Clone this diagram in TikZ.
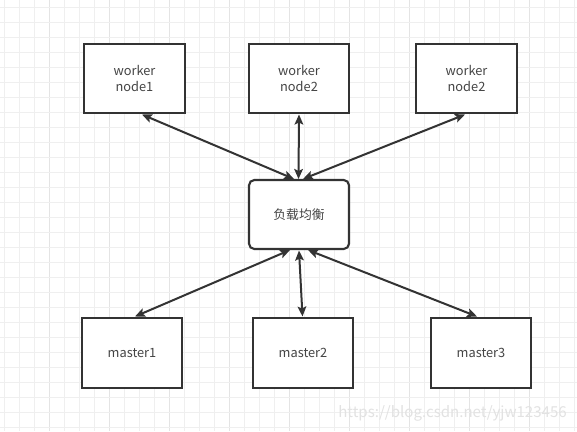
\documentclass[tikz,border=0pt]{standalone}
\usepackage{fontspec}
\setmainfont{Noto Sans CJK SC}
\usetikzlibrary{arrows.meta,calc}
\definecolor{gridminor}{HTML}{EFEFEF}
\definecolor{gridmajor}{HTML}{E4E4E4}
\definecolor{edge}{HTML}{333333}
\definecolor{txt}{HTML}{444444}
\definecolor{wm}{HTML}{E2E2E2}
\tikzset{
  box/.style={draw=edge, line width=1.6pt, fill=white, inner sep=0pt, outer sep=0pt,
    minimum width=75pt, minimum height=52pt, align=center, text=txt,
    font=\fontsize{9.6}{12.5}\selectfont},
  wbox/.style={box, minimum width=75.75pt, minimum height=51.75pt},
  mbox/.style={box, minimum width=75pt, minimum height=52.5pt},
  lbbox/.style={box, rounded corners=4pt, minimum width=75pt, minimum height=51.75pt},
  conn/.style={draw=edge, line width=1.5pt,
    {Stealth[length=7.5pt,width=6.5pt,inset=1.5pt]}-{Stealth[length=7.5pt,width=6.5pt,inset=1.5pt]}},
  gridline/.style={draw=gridminor, line width=0.75pt},
  gridmaj/.style={draw=gridmajor, line width=0.75pt}
}
\begin{document}
\begin{tikzpicture}[x=0.75pt, y=-0.75pt]
\useasboundingbox (0,0) rectangle (577,431);
\fill[white] (0,0) rectangle (577,431);
% grid
\foreach \k in {0,...,38} {
  \pgfmathtruncatemacro{\m}{mod(\k,4)}
  \ifnum\m=3
    \draw[gridmaj] (4.5+15*\k,0) -- (4.5+15*\k,431);
  \else
    \draw[gridline] (4.5+15*\k,0) -- (4.5+15*\k,431);
  \fi
}
\foreach \k in {0,...,28} {
  \draw[gridline] (0,7.5+15*\k) -- (577,7.5+15*\k);
}
% watermark
\node[anchor=east, text=wm, inner sep=0pt, font=\fontsize{11.3}{14}\selectfont] (wmk) at (567,413) {https://blog.csdn.net/yjw123456};
% boxes
\node[wbox] (w1) at (134.5,78.5) {worker\\node1};
\node[wbox, minimum width=75pt] (w2) at (299,78.5) {worker\\node2};
\node[wbox] (w3) at (466.5,78.5) {worker\\node2};
\node[lbbox] (lb) at (299,214.5) {负载均衡};
\node[mbox] (m1) at (132,353) {master1};
\node[mbox] (m2) at (303,353) {master2};
\node[mbox] (m3) at (481,353) {master3};
% connectors
\draw[conn] ($(w1.south)+(7.5,1.5)$) -- ($(lb.north)+(-5,-1)$);
\draw[conn] ($(w2.south)+(0,1.5)$) -- ($(lb.north)+(-0.5,-1)$);
\draw[conn] ($(w3.south)+(-1.5,1.5)$) -- ($(lb.north)+(4,-1)$);
\draw[conn] ($(lb.south)+(-9,1)$) -- ($(m1.north)+(3,-1.5)$);
\draw[conn] ($(lb.south)+(0,1.5)$) -- ($(m2.north)+(-0.5,-1.5)$);
\draw[conn] ($(lb.south)+(9,1)$) -- ($(m3.north)+(-4,-1.5)$);
\end{tikzpicture}
\end{document}
